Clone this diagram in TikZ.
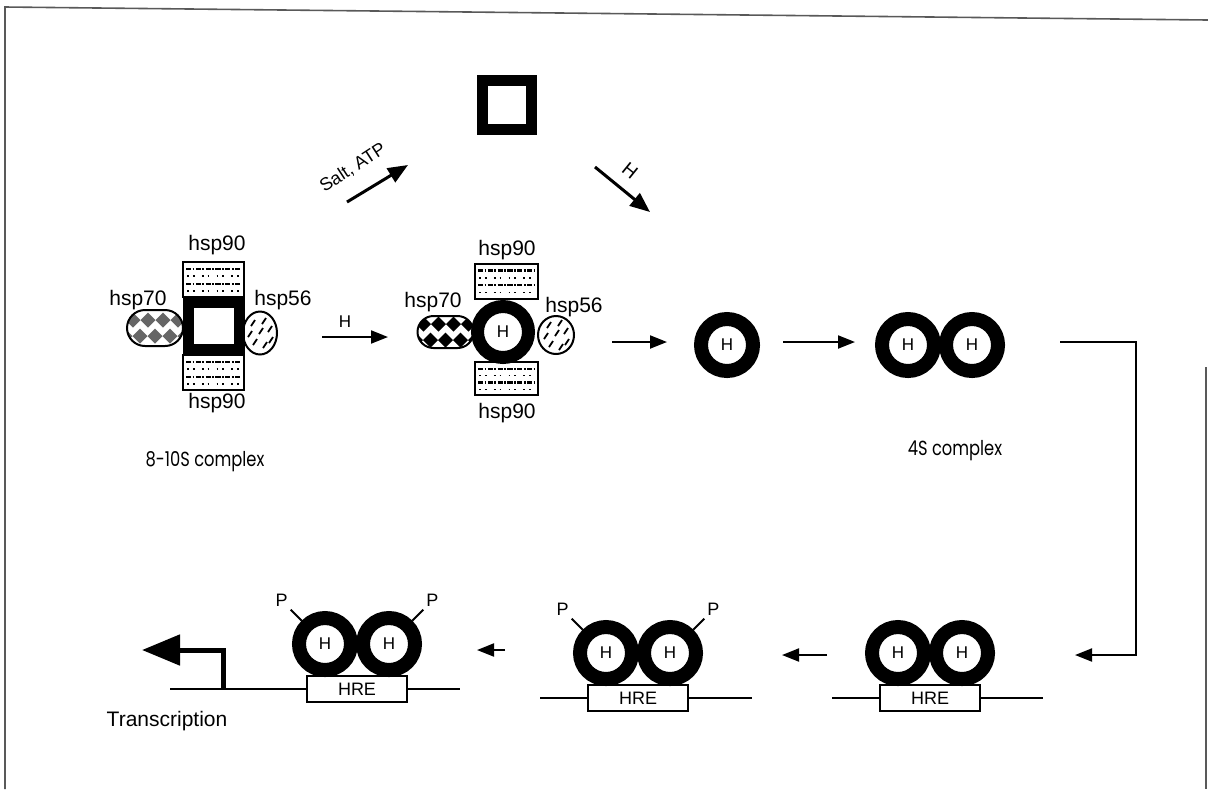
\documentclass[tikz,border=0pt]{standalone}
\usepackage{fontspec}
\setmainfont{Liberation Sans}
\newfontfamily\geofont[FakeStretch=0.8]{Poppins}
\usetikzlibrary{arrows.meta,positioning,shapes.geometric,shapes.misc,calc}
\tikzset{
  >={Triangle[length=8.5pt,width=6.5pt]},
  flow/.style={->,line width=1pt},
  bigflow/.style={-{Triangle[length=10pt,width=8pt]},line width=1.5pt},
  lbl/.style={inner sep=0pt,font=\fontsize{10.5}{12}\selectfont},
  cplx/.style={inner sep=0pt,font=\geofont\fontsize{10.2}{12}\selectfont},
  hlbl/.style={inner sep=0pt,font=\fontsize{8.5}{10}\selectfont},
  plbl/.style={inner sep=1pt,font=\fontsize{9}{10}\selectfont},
  ring/.style={circle,draw,line width=7pt,fill=white,minimum size=26pt,inner sep=0pt,
    font=\fontsize{8.5}{10}\selectfont},
  rec/.style={rectangle,draw,line width=5.5pt,fill=white,minimum width=25.5pt,
    minimum height=23.5pt,inner sep=0pt},
  hre/.style={rectangle,draw,line width=1pt,fill=white,minimum width=50pt,
    minimum height=13pt,inner sep=0pt,font=\fontsize{9}{10}\selectfont},
  dna/.style={line width=1pt},
  % protein textures
  dashrow/.style={line width=1.1pt,dash pattern=on 2.6pt off 0.7pt on 0.9pt off 0.7pt,
    shorten <=1.5pt,shorten >=1.5pt},
  dotrow/.style={line width=0.9pt,dash pattern=on 0.9pt off 2pt on 0.9pt off 3.6pt,
    shorten <=2pt,shorten >=2pt},
  hspn/.style={draw,line width=1pt,fill=white,minimum width=30.5pt,minimum height=17.5pt,
    inner sep=0pt,path picture={
      \coordinate (nw) at (path picture bounding box.north west);
      \coordinate (se) at (path picture bounding box.south east);
      \foreach \f in {0.2,0.62} \draw[dashrow] ($(nw)!\f!(nw|-se)$) -- ($(se|-nw)!\f!(se)$);
      \foreach \f in {0.41,0.83} \draw[dotrow] ($(nw)!\f!(nw|-se)$) -- ($(se|-nw)!\f!(se)$);
    }},
  hsps/.style={rounded rectangle,draw,line width=1pt,fill=white,minimum width=28pt,
    minimum height=18pt,inner sep=0pt,path picture={
      \foreach \dx/\dy in {-22/-8,-7/-8,8/-8,23/-8,-30/8,-15/8,0/8,15/8,30/8}
        \fill[#1] ([shift={(\dx,\dy)}]path picture bounding box.center)
          +(-7.5,0) -- +(0,-7.5) -- +(7.5,0) -- +(0,7.5) -- cycle;
    }},
  hsps/.default=black,
  hspf/.style={ellipse,draw,line width=1pt,fill=white,minimum width=17pt,
    minimum height=21.5pt,inner sep=0pt,path picture={
      \foreach \dx/\dy in {-7/-10,4/-12,-10/1,1/-2,10/-4,-5/9,5/12,11/7}
        \draw[line width=0.9pt] ([shift={(\dx,\dy)}]path picture bounding box.center)
          +(-2,3) -- +(2,-3);
    }},
  pics/dimer/.style={code={
    \node[ring] (-a) at (-32,0) {H};
    \node[ring] (-b) at (32,0) {H};
  }},
}

\begin{document}
\begin{tikzpicture}[x=0.5pt,y=-0.5pt]
    \useasboundingbox (0,0) rectangle (1208,789);
    \draw[black!65,line width=0.8pt] (5,789) -- (5,7) -- (1208,20);
    \draw[black!65,line width=0.8pt] (1206,367) -- (1206,789);

    % 8-10S complex
    \node[hspn] (u90a) at (213.5,279.5) {};
    \node[hspn] (l90a) at (213.5,372.5) {};
    \node[hsps=black!60] (h70a) at (155,328) {};
    \node[hspf] (h56a) at (260,333) {};
    \node[rec] (reca) at (214,326) {};
    \node[lbl] (t90a) at (217,245) {hsp90};
    \node[lbl] (b90a) at (217,403) {hsp90};
    \node[lbl] (t70a) at (138,300) {hsp70};
    \node[lbl] (t56a) at (283,300) {hsp56};
    \node[cplx] (c810) at (205,462) {8-10S complex};

    % free receptor
    \node[rec,minimum width=24.5pt,minimum height=24.5pt] (free) at (507,105) {};
    \coordinate (s1) at (347,202); \coordinate (s2) at (408,165);
    \draw[bigflow] (s1) -- (s2);
    \node[lbl,font=\fontsize{9}{11}\selectfont,rotate=33] (salt) at (353,168) {Salt, ATP};
    \coordinate (g1) at (595,167); \coordinate (g2) at (650,212);
    \draw[bigflow] (g1) -- (g2);
    \node[hlbl,font=\fontsize{9.5}{11}\selectfont,rotate=-39] (gh) at (630,171) {H};

    % hormone bound complex
    \coordinate (a1) at (322,337); \coordinate (a2) at (388,337);
    \draw[flow] (a1) -- (a2);
    \node[hlbl] (ah) at (345,322) {H};
    \node[hspn,minimum width=31.5pt] (u90b) at (506.5,281) {};
    \node[hspn,minimum width=31.5pt,minimum height=16.5pt] (l90b) at (506.5,378.5) {};
    \node[hsps,minimum height=16pt] (h70b) at (445.5,332) {};
    \node[hspf,minimum width=18pt,minimum height=19pt] (h56b) at (556,335) {};
    \node[ring,line width=6.5pt,minimum size=25.5pt] (hrb) at (503,332) {H};
    \node[lbl] (t90b) at (507,250) {hsp90};
    \node[lbl] (b90b) at (507,413) {hsp90};
    \node[lbl] (t70b) at (433,302) {hsp70};
    \node[lbl] (t56b) at (574,307) {hsp56};

    % 4S complex
    \coordinate (m1) at (612,342); \coordinate (m2) at (667,342);
    \draw[flow] (m1) -- (m2);
    \node[ring] (mono) at (727,345) {H};
    \coordinate (m3) at (783,342); \coordinate (m4) at (855,342);
    \draw[flow] (m3) -- (m4);
    \pic (top) at (940,345) {dimer};
    \node[cplx] (c4s) at (955,451) {4S complex};

    \coordinate (k1) at (1060,342); \coordinate (k2) at (1136,655); \coordinate (k3) at (1075,655);
    \draw[flow] (k1) -| (k2) -- (k3);

    % DNA binding
    \draw[dna] (832,698) -- (1043,698);
    \node[hre] (hreR) at (930,698) {HRE};
    \pic (br) at (930,653) {dimer};
    \coordinate (n1) at (827,655); \coordinate (n2) at (782,655);
    \draw[flow] (n1) -- (n2);

    \draw[dna] (540,698) -- (752,698);
    \node[hre] (hreM) at (638,698) {HRE};
    \pic (bm) at (638,653) {dimer};
    \draw[line width=1pt] (bm-a.135) -- ++(-11,-11) node[plbl,anchor=south east] (pm1) {P};
    \draw[line width=1pt] (bm-b.45) -- ++(11,-11) node[plbl,anchor=south west] (pm2) {P};
    \coordinate (n3) at (505,650); \coordinate (n4) at (477,650);
    \draw[flow] (n3) -- (n4);

    \coordinate (dl) at (170,689); \coordinate (dr) at (460,689);
    \draw[dna] (dl) -- (dr);
    \node[hre] (hreL) at (357,689) {HRE};
    \pic (bl) at (357,644) {dimer};
    \draw[line width=1pt] (bl-a.135) -- ++(-11,-11) node[plbl,anchor=south east] (pl1) {P};
    \draw[line width=1pt] (bl-b.45) -- ++(11,-11) node[plbl,anchor=south west] (pl2) {P};

    \coordinate (tss) at (223,689); \coordinate (tip) at (142,650);
    \draw[line width=2.5pt,-{Triangle[length=19pt,width=15pt]}] (tss) |- (tip);
    \node[lbl] (trx) at (167,721) {Transcription};
\end{tikzpicture}
\end{document}
